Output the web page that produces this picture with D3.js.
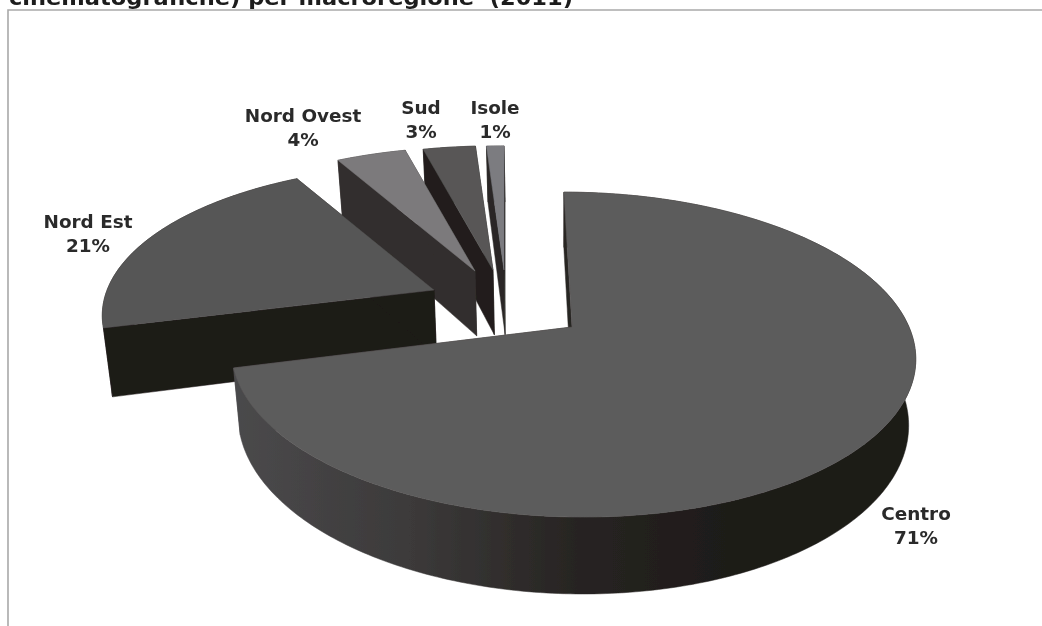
<!DOCTYPE html>
<html><head><meta charset="utf-8">
<script src="https://cdn.jsdelivr.net/npm/d3@7"></script>
<style>html,body{margin:0;padding:0;background:#fff}svg{display:block}</style>
</head><body><svg id="c" width="1042" height="626"></svg>
<script>
const categories = ["Centro","Nord Est","Nord Ovest","Sud","Isole"];
const shares = [71,21,4,3,1];
const titleText = "cinematografiche) per macroregione  (2011)";

// exploded layout of each slice (screen apex, scale, shear, depth) and its paint
const apexX = [572,434,475,493,504];
const apexY = [327,290,271,270,270];
const scaleX = [1,.97,.97,.97,.97];
const scaleY = [1,.925,.92,.92,.92];
const shear = [.06,0,0,0,0];
const depths = [67,72,72,72,72];
const topFill = ["#5c5b5b","#575656","#7c7a7c","#585757","#7b7b80"];
const wallFill = ["url(#wallC)","#1f1b19","#332f2e","#221f1d","#2a2826"];
const labelX = [916,88,303,421,495];
const labelY = [520,228,122,114,114];

const RX=337, RY=157.8, K=.17, VX=560, SHRINK=.02;
const svg=d3.select("#c");
const defs=svg.append("defs");
const f=defs.append("filter").attr("id","soft").attr("x","-5%").attr("y","-5%").attr("width","110%").attr("height","110%");
f.append("feGaussianBlur").attr("stdDeviation",.55);
const g0=defs.append("linearGradient").attr("id","wallC").attr("gradientUnits","userSpaceOnUse")
  .attr("x1",240).attr("x2",915).attr("y1",0).attr("y2",0);
[[0,"#4a494b"],[.25,"#3c3a3a"],[.5,"#272422"],[.72,"#1e1b19"],[1,"#1c1a17"]]
  .forEach(([o,c])=>g0.append("stop").attr("offset",o).attr("stop-color",c));

const root=svg.append("g").attr("filter","url(#soft)");
// frame
const frame=d3.path();frame.moveTo(8,626);frame.lineTo(8,10);frame.lineTo(1042,10);
root.append("path").attr("d",frame.toString()).attr("fill","none").attr("stroke","#a9a9a9").attr("stroke-width",1.6);

// title clipped by the top of the page
root.append("text").attr("x",9).attr("y",5).attr("textLength",564).attr("lengthAdjust","spacingAndGlyphs")
  .style("white-space","pre")
  .attr("font-family","'DejaVu Sans',Verdana,sans-serif").attr("font-weight","700").attr("font-size",21).attr("fill","#1c1c1c").text(titleText);

const arcs=d3.pie().sort(null).startAngle(0).endAngle(2*Math.PI)(shares);
const line=d3.line();

function topPoint(i,a,r=1){
  const u=r*Math.sin(a), v=-r*Math.cos(a), d=1-K*v;
  const y=RY*v/d*scaleY[i];
  return [apexX[i]+RX*u/d*scaleX[i]+shear[i]*y, apexY[i]+y];
}
function drop(i,p){
  return [VX+(p[0]-VX)*(1-SHRINK), p[1]+depths[i]*(1+(p[1]-370)*.001)];
}
const order=d3.range(categories.length).reverse();
order.forEach(i=>{
  const s=arcs[i], n=Math.max(4,Math.ceil((s.endAngle-s.startAngle)/.015));
  const angles=d3.range(n+1).map(t=>s.startAngle+(s.endAngle-s.startAngle)*t/n);
  const rim=angles.map(a=>topPoint(i,a));
  const apex=[apexX[i],apexY[i]];
  const g=root.append("g").attr("class","slice");
  const wall=pts=>g.append("path").attr("d",line(pts)+"Z").attr("fill",wallFill[i]).attr("stroke",wallFill[i]).attr("stroke-width",.5);
  wall([apex,rim[0],drop(i,rim[0]),drop(i,apex)]);
  wall([apex,rim[n],drop(i,rim[n]),drop(i,apex)]);
  wall(rim.concat(rim.map(p=>drop(i,p)).reverse()));
  g.append("path").attr("d",line([apex].concat(rim))+"Z").attr("fill",topFill[i]).attr("stroke",topFill[i]).attr("stroke-width",.5);
});

categories.forEach((c,i)=>{
  const t=root.append("text").attr("text-anchor","middle")
    .attr("font-family","'DejaVu Sans',Verdana,sans-serif").attr("font-weight","700").attr("font-size",18.4).attr("fill","#2a2a2a");
  t.append("tspan").attr("x",labelX[i]).attr("y",labelY[i]).text(c);
  t.append("tspan").attr("x",labelX[i]).attr("y",labelY[i]+23.5).text(shares[i]+"%");
});
</script></body></html>
